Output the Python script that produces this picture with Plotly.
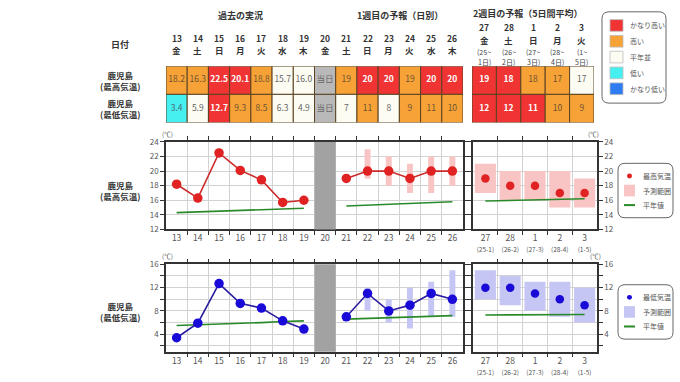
import plotly.graph_objects as go

W, H = 680, 382
def fx(p): return p / W
def fy(p): return 1 - p / H

FONT = "Noto Sans CJK JP"

# ---------------- data ----------------
days_w1 = ['13','14','15','16','17','18','19','20','21','22','23','24','25','26']
wdays_w1 = ['金','土','日','月','火','水','木','金','土','日','月','火','水','木']
today_label = '当日'
today_idx = 7

max_obs = [18.2, 16.3, 22.5, 20.1, 18.8, 15.7, 16.0]
min_obs = [3.4, 5.9, 12.7, 9.3, 8.5, 6.3, 4.9]
max_fc = [19, 20, 20, 19, 20, 20]
min_fc = [7, 11, 8, 9, 11, 10]
max_fc_lo = [None, 19, 18, 17, 17, 18]
max_fc_hi = [None, 23, 22, 21, 22, 22]
min_fc_lo = [None, 8, 6, 5, 7, 7]
min_fc_hi = [None, 12, 10, 12, 13, 15]
max_norm_obs = [14.3, 14.4, 14.5, 14.6, 14.7, 14.8, 14.9]
max_norm_fc = [15.2, 15.3, 15.4, 15.5, 15.6, 15.8]
min_norm_obs = [5.5, 5.6, 5.8, 5.9, 6.0, 6.2, 6.3]
min_norm_fc = [6.6, 6.7, 6.8, 6.9, 7.1, 7.2]
max_class_w1 = ['H','H','VH','VH','H','N','N','T','H','VH','VH','H','VH','VH']
min_class_w1 = ['L','N','VH','H','H','N','N','T','N','H','N','H','H','H']

days_w2 = ['27','28','1','2','3']
wdays_w2 = ['金','土','日','月','火']
period_start = ['25','26','27','28','1']
period_end = ['1','2','3','4','5']
max_w2 = [19, 18, 18, 17, 17]
max_w2_lo = [17, 16, 16, 15, 15]
max_w2_hi = [21, 20, 20, 20, 19]
min_w2 = [12, 12, 11, 10, 9]
min_w2_lo = [10, 9, 8, 7, 6]
min_w2_hi = [15, 14, 13, 13, 12]
max_norm_w2 = [15.9, 16.0, 16.0, 16.1, 16.2]
min_norm_w2 = [7.3, 7.3, 7.4, 7.4, 7.4]
max_class_w2 = ['VH','VH','H','H','N']
min_class_w2 = ['VH','VH','VH','H','H']

class_keys = ['VH','H','N','L','VL']
class_names = ['かなり高い','高い','平年並','低い','かなり低い']

# ---------------- styles ----------------
class_color = {'VH': '#f03434', 'H': '#f7a236', 'N': '#fdfcf3', 'L': '#46f0f0',
               'VL': '#2f7cf2', 'T': '#b9b9b9'}
class_text = {'VH': '#ffffff', 'H': '#6e5232', 'N': '#666666', 'L': '#4a6878',
              'VL': '#ffffff', 'T': '#666666'}
RED_M, RED_L = '#e02222', '#cc2a2a'
BLUE_M, BLUE_L = '#1a0ad8', '#2c1ea0'
PINK, LAV = '#f8c4c4', '#c6c6f4'
GREEN = '#2a8a2a'
AX = '#333333'
GRID = '#d2d2d2'

n1, n2 = len(days_w1), len(days_w2)
obs_x = list(range(len(max_obs)))
fc_x = list(range(today_idx + 1, n1))

fig = go.Figure()

# ---------------- tables ----------------
def add_table(xa, ya, classes, texts, base):
    n = len(classes)
    fig.add_trace(go.Bar(
        x=list(range(n)), y=[1] * n, base=[base] * n, width=1,
        marker=dict(color=[class_color[c] for c in classes],
                    line=dict(color='#5a4222', width=1)),
        xaxis=xa, yaxis=ya, hoverinfo='skip', showlegend=False))
    fig.add_trace(go.Scatter(
        x=list(range(n)), y=[base + 0.5] * n, mode='text',
        text=[('<b>%s</b>' % t) if c == 'VH' else t for t, c in zip(texts, classes)],
        textfont=dict(family=FONT, size=8.5, color=[class_text[c] for c in classes]),
        xaxis=xa, yaxis=ya, hoverinfo='skip', showlegend=False))

max_txt_w1 = ['%.1f' % v for v in max_obs] + [today_label] + ['%d' % v for v in max_fc]
min_txt_w1 = ['%.1f' % v for v in min_obs] + [today_label] + ['%d' % v for v in min_fc]
add_table('x', 'y', max_class_w1, max_txt_w1, 1)
add_table('x', 'y', min_class_w1, min_txt_w1, 0)
add_table('x2', 'y2', max_class_w2, ['%d' % v for v in max_w2], 1)
add_table('x2', 'y2', min_class_w2, ['%d' % v for v in min_w2], 0)

# ---------------- charts ----------------
def add_week1(xa, ya, obs, fc, lo, hi, nobs, nfc, fill, mc, lc):
    bx = [x for x, l in zip(fc_x, lo) if l is not None]
    bb = [l for l in lo if l is not None]
    bh = [h - l for h, l in zip(hi, lo) if l is not None]
    fig.add_trace(go.Bar(x=bx, y=bh, base=bb, width=0.28, marker=dict(color=fill, line=dict(width=0)),
                         xaxis=xa, yaxis=ya, hoverinfo='skip', showlegend=False))
    for xs, ys in ((obs_x, nobs), (fc_x, nfc)):
        fig.add_trace(go.Scatter(x=xs, y=ys, mode='lines', line=dict(color=GREEN, width=1.6),
                                 xaxis=xa, yaxis=ya, hoverinfo='skip', showlegend=False))
    for xs, ys in ((obs_x, obs), (fc_x, fc)):
        fig.add_trace(go.Scatter(x=xs, y=ys, mode='lines+markers',
                                 line=dict(color=lc, width=1.6),
                                 marker=dict(color=mc, size=9.5),
                                 xaxis=xa, yaxis=ya, hoverinfo='skip', showlegend=False))

def add_week2(xa, ya, vals, lo, hi, norm, fill, mc):
    xs = list(range(len(vals)))
    fig.add_trace(go.Bar(x=xs, y=[h - l for h, l in zip(hi, lo)], base=lo, width=0.85,
                         marker=dict(color=fill, line=dict(width=0)),
                         xaxis=xa, yaxis=ya, hoverinfo='skip', showlegend=False))
    fig.add_trace(go.Scatter(x=xs, y=norm, mode='lines', line=dict(color=GREEN, width=1.6),
                             xaxis=xa, yaxis=ya, hoverinfo='skip', showlegend=False))
    fig.add_trace(go.Scatter(x=xs, y=vals, mode='markers', marker=dict(color=mc, size=8.5),
                             xaxis=xa, yaxis=ya, hoverinfo='skip', showlegend=False))

add_week1('x3', 'y3', max_obs, max_fc, max_fc_lo, max_fc_hi, max_norm_obs, max_norm_fc, PINK, RED_M, RED_L)
add_week2('x4', 'y4', max_w2, max_w2_lo, max_w2_hi, max_norm_w2, PINK, RED_M)
add_week1('x5', 'y5', min_obs, min_fc, min_fc_lo, min_fc_hi, min_norm_obs, min_norm_fc, LAV, BLUE_M, BLUE_L)
add_week2('x6', 'y6', min_w2, min_w2_lo, min_w2_hi, min_norm_w2, LAV, BLUE_M)

# ---------------- axes ----------------
tbl = dict(showgrid=False, zeroline=False, showticklabels=False, ticks='', showline=False, fixedrange=True)
D1 = [fx(166), fx(463)]
D2 = [fx(473), fx(597)]
DT2 = [fx(472), fx(594)]
YT = [fy(120), fy(62)]
YMAX = [fy(230), fy(140)]
YMIN = [fy(356), fy(266)]

def xchart(domain, n, labels, anchor):
    return dict(domain=domain, range=[-0.5, n - 0.5], anchor=anchor, tickmode='array',
                tickvals=list(range(n)), ticktext=labels, ticks='', showgrid=False,
                zeroline=False, showline=True, linecolor=AX, linewidth=1.5, mirror='ticks',
                tickfont=dict(family=FONT, size=8.5, color='#555'),
                minor=dict(tickvals=[i - 0.5 for i in range(1, n)], ticks='outside', ticklen=4,
                           tickcolor=AX, showgrid=True, gridcolor=GRID, gridwidth=1))

def ychart(domain, rng, vals, text, anchor, side):
    return dict(domain=domain, range=rng, anchor=anchor, side=side, tickmode='array',
                tickvals=vals, ticktext=text, ticks='outside', ticklen=4, tickcolor=AX,
                showgrid=True, gridcolor=GRID, gridwidth=1, zeroline=False,
                showline=True, linecolor=AX, linewidth=1.5, mirror='ticks',
                tickfont=dict(family=FONT, size=8, color='#555'))

max_ticks = list(range(12, 25, 2))
min_ticks = list(range(2, 17, 2))
min_ticktext = [str(v) if v % 4 == 0 else '' for v in min_ticks]
w2_labels = ['%s<br><span style="font-size:6.5px">(%s-%s)</span>' % (d, s, e)
             for d, s, e in zip(days_w2, period_start, period_end)]

layout = dict(
    width=W, height=H, autosize=False, margin=dict(l=0, r=0, t=0, b=0),
    paper_bgcolor='white', plot_bgcolor='white', barmode='overlay', showlegend=False,
    font=dict(family=FONT, color='#333'),
    xaxis=dict(domain=D1, range=[-0.5, n1 - 0.5], anchor='y', **tbl),
    yaxis=dict(domain=YT, range=[0, 2], anchor='x', **tbl),
    xaxis2=dict(domain=DT2, range=[-0.5, n2 - 0.5], anchor='y2', **tbl),
    yaxis2=dict(domain=YT, range=[0, 2], anchor='x2', **tbl),
    xaxis3=xchart(D1, n1, days_w1, 'y3'),
    yaxis3=ychart(YMAX, [12, 24], max_ticks, [str(v) for v in max_ticks], 'x3', 'left'),
    xaxis4=xchart(D2, n2, w2_labels, 'y4'),
    yaxis4=ychart(YMAX, [12, 24], max_ticks, [str(v) for v in max_ticks], 'x4', 'right'),
    xaxis5=xchart(D1, n1, days_w1, 'y5'),
    yaxis5=ychart(YMIN, [1, 16], min_ticks, min_ticktext, 'x5', 'left'),
    xaxis6=xchart(D2, n2, w2_labels, 'y6'),
    yaxis6=ychart(YMIN, [1, 16], min_ticks, min_ticktext, 'x6', 'right'),
)
fig.update_layout(**layout)

shapes = []
# today band
for xa, ya in (('x3', 'y3'), ('x5', 'y5')):
    shapes.append(dict(type='rect', xref=xa, yref=ya + ' domain', x0=today_idx - 0.5, x1=today_idx + 0.5,
                       y0=0, y1=1, fillcolor='#a2a2a2', line=dict(width=0), layer='above'))

def rrect(x0, y0, x1, y1, r=7):
    X0, X1 = fx(x0), fx(x1)
    Y0, Y1 = fy(y0), fy(y1)
    rx, ry = r / W, r / H
    return ('M %f,%f L %f,%f Q %f,%f %f,%f L %f,%f Q %f,%f %f,%f L %f,%f Q %f,%f %f,%f L %f,%f Q %f,%f %f,%f Z'
            % (X0 + rx, Y0, X1 - rx, Y0, X1, Y0, X1, Y0 - ry, X1, Y1 + ry, X1, Y1, X1 - rx, Y1,
               X0 + rx, Y1, X0, Y1, X0, Y1 + ry, X0, Y0 - ry, X0, Y0, X0 + rx, Y0))

ann = []
def text(x, y, s, size=8, color='#333', xref='paper', anchor='center', bold=False):
    ann.append(dict(x=x if xref != 'paper' else fx(x), y=fy(y), xref=xref, yref='paper',
                    text=('<b>%s</b>' % s) if bold else s, showarrow=False,
                    font=dict(family=FONT, size=size, color=color), xanchor=anchor, yanchor='middle'))

# legend 1 (table classes)
shapes.append(dict(type='path', xref='paper', yref='paper', path=rrect(602, 6, 666, 100),
                   line=dict(color='#666', width=1), fillcolor='white'))
for i, (k, nm) in enumerate(zip(class_keys, class_names)):
    yc = 20 + i * 16.3
    shapes.append(dict(type='rect', xref='paper', yref='paper', x0=fx(610), x1=fx(623),
                       y0=fy(yc - 6), y1=fy(yc + 6), fillcolor=class_color[k],
                       line=dict(color='#bbb', width=0.8)))
    text(628, yc, nm, size=7, color='#555', anchor='left')

# legends 2, 3
for (top, name, mc, fill) in ((162, '最高気温', RED_M, PINK), (287, '最低気温', BLUE_M, LAV)):
    shapes.append(dict(type='path', xref='paper', yref='paper', path=rrect(618, top, 673, top + 56),
                       line=dict(color='#666', width=1), fillcolor='white'))
    y1, y2, y3 = top + 13, top + 28, top + 43
    shapes.append(dict(type='circle', xref='paper', yref='paper', x0=fx(627), x1=fx(632),
                       y0=fy(y1 + 2.5), y1=fy(y1 - 2.5), fillcolor=mc, line=dict(width=0)))
    shapes.append(dict(type='rect', xref='paper', yref='paper', x0=fx(624), x1=fx(635),
                       y0=fy(y2 + 6), y1=fy(y2 - 6), fillcolor=fill, line=dict(width=0)))
    shapes.append(dict(type='line', xref='paper', yref='paper', x0=fx(624), x1=fx(635),
                       y0=fy(y3), y1=fy(y3), line=dict(color=GREEN, width=2)))
    text(641, y1, name, size=7, color='#555', anchor='left')
    text(641, y2, '予測範囲', size=7, color='#555', anchor='left')
    text(641, y3, '平年値', size=7, color='#555', anchor='left')

# headers
text(240, 10, '過去の実況', size=9, bold=True)
text(400, 10, '1週目の予報（日別）', size=9, bold=True)
text(528, 8, '2週目の予報（5日間平均）', size=9, bold=True)
text(120, 40, '日付', size=9, bold=True)
for i, (d, w) in enumerate(zip(days_w1, wdays_w1)):
    text(i, 32.5, d, size=8.5, bold=True, xref='x')
    text(i, 45, w, size=8.5, bold=True, xref='x')
for i, (d, w, s, e) in enumerate(zip(days_w2, wdays_w2, period_start, period_end)):
    text(i, 21.5, d, size=8.5, bold=True, xref='x2')
    text(i, 34.5, w, size=8.5, bold=True, xref='x2')
    text(i, 47, '(%s~' % s, size=7, color='#444', xref='x2')
    text(i, 58, '%s日)' % e, size=7, color='#444', xref='x2')

# row labels
for y, s in ((77, '鹿児島<br>(最高気温)'), (106, '鹿児島<br>(最低気温)'),
             (190, '鹿児島<br>(最高気温)'), (315, '鹿児島<br>(最低気温)')):
    text(120, y, '<b>%s</b>' % s.replace('<br>', '</b><br><b>'), size=8.5)

# unit labels
for x, y in ((167, 132), (593, 132), (167, 257), (595, 257)):
    text(x, y, '(℃)', size=6.5, color='#555')

fig.update_layout(shapes=shapes, annotations=ann)
fig.write_html("out.html", config={'displayModeBar': False},
               post_script="document.body.style.margin='0';document.body.style.overflow='hidden';")
